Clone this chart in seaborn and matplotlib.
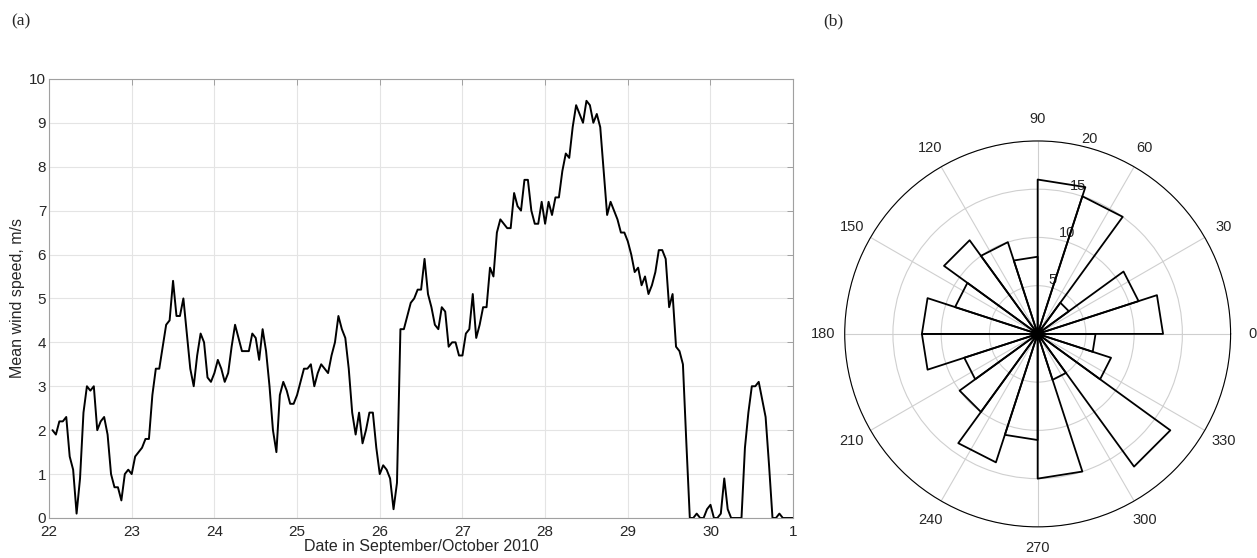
import numpy as np
import pandas as pd
import seaborn as sns
import matplotlib.pyplot as plt

# hourly mean wind speed (m/s), 22 Sep 01:00 -> 1 Oct 00:00
speed_22 = [2.0, 1.9, 2.2, 2.2, 2.3, 1.4, 1.1, 0.1, 0.9, 2.4, 3.0, 2.9,
            3.0, 2.0, 2.2, 2.3, 1.9, 1.0, 0.7, 0.7, 0.4, 1.0, 1.1, 1.0]
speed_23 = [1.4, 1.5, 1.6, 1.8, 1.8, 2.8, 3.4, 3.4, 3.9, 4.4, 4.5, 5.4,
            4.6, 4.6, 5.0, 4.2, 3.4, 3.0, 3.7, 4.2, 4.0, 3.2, 3.1, 3.3]
speed_24 = [3.6, 3.4, 3.1, 3.3, 3.9, 4.4, 4.1, 3.8, 3.8, 3.8, 4.2, 4.1,
            3.6, 4.3, 3.8, 3.0, 2.0, 1.5, 2.8, 3.1, 2.9, 2.6, 2.6, 2.8]
speed_25 = [3.1, 3.4, 3.4, 3.5, 3.0, 3.3, 3.5, 3.4, 3.3, 3.7, 4.0, 4.6,
            4.3, 4.1, 3.4, 2.4, 1.9, 2.4, 1.7, 2.0, 2.4, 2.4, 1.6, 1.0]
speed_26 = [1.2, 1.1, 0.9, 0.2, 0.8, 4.3, 4.3, 4.6, 4.9, 5.0, 5.2, 5.2,
            5.9, 5.1, 4.8, 4.4, 4.3, 4.8, 4.7, 3.9, 4.0, 4.0, 3.7, 3.7]
speed_27 = [4.2, 4.3, 5.1, 4.1, 4.4, 4.8, 4.8, 5.7, 5.5, 6.5, 6.8, 6.7,
            6.6, 6.6, 7.4, 7.1, 7.0, 7.7, 7.7, 7.0, 6.7, 6.7, 7.2, 6.7]
speed_28 = [7.2, 6.9, 7.3, 7.3, 7.9, 8.3, 8.2, 8.9, 9.4, 9.2, 9.0, 9.5,
            9.4, 9.0, 9.2, 8.9, 7.9, 6.9, 7.2, 7.0, 6.8, 6.5, 6.5, 6.3]
speed_29 = [6.0, 5.6, 5.7, 5.3, 5.5, 5.1, 5.3, 5.6, 6.1, 6.1, 5.9, 4.8,
            5.1, 3.9, 3.8, 3.5, 1.7, 0.0, 0.0, 0.1, 0.0, 0.0, 0.2, 0.3]
speed_30 = [0.0, 0.0, 0.1, 0.9, 0.2, 0.0, 0.0, 0.0, 0.0, 1.6, 2.4, 3.0,
            3.0, 3.1, 2.7, 2.3, 1.2, 0.0, 0.0, 0.1, 0.0, 0.0, 0.0, 0.0]
speed = speed_22 + speed_23 + speed_24 + speed_25 + speed_26 + speed_27 + speed_28 + speed_29 + speed_30
day_ticks = [22, 23, 24, 25, 26, 27, 28, 29, 30, 31]
day_labels = ['22', '23', '24', '25', '26', '27', '28', '29', '30', '1']

# wind direction rose: hours per 18-degree sector
sector_edges = [0, 18, 36, 54, 72, 90, 108, 126, 144, 162, 180,
                198, 216, 234, 252, 270, 288, 306, 324, 342, 360]
sector_counts = [13, 11, 4, 15, 16, 8, 10, 12, 9, 12,
                 12, 8, 10, 14, 11, 15, 5, 17, 8, 6]
angle_ticks = [0, 30, 60, 90, 120, 150, 180, 210, 240, 270, 300, 330]

sns.set_style('white')
plt.rcParams['font.family'] = ['Liberation Sans', 'DejaVu Sans']

fig = plt.figure(figsize=(12.57, 5.58), dpi=100)

# (a) time series
ax = fig.add_axes([0.039, 0.0717, 0.592, 0.787])
df = pd.DataFrame({'day': 22 + np.arange(1, len(speed) + 1) / 24, 'speed': speed})
sns.lineplot(data=df, x='day', y='speed', color='black', lw=1.4, ax=ax)
ax.set_xlim(22, 31)
ax.set_ylim(0, 10)
ax.set_xticks(day_ticks)
ax.set_xticklabels(day_labels)
ax.set_yticks(range(0, 11))
ax.grid(True, color='#e4e4e4', lw=0.8)
ax.tick_params(direction='in', top=True, right=True, length=4, width=0.7,
               color='#a0a0a0', labelsize=11, pad=2)
ax.tick_params(axis='x', pad=5)
for s in ax.spines.values():
    s.set_color('#a0a0a0')
    s.set_linewidth(0.8)
ax.set_xlabel('Date in September/October 2010', fontsize=11.5, labelpad=0)
ax.set_ylabel('Mean wind speed, m/s', fontsize=11.5, labelpad=3)

# (b) rose diagram
pax = fig.add_axes([0.672, 0.0556, 0.307, 0.692], projection='polar')
for i, c in enumerate(sector_counts):
    t1 = np.deg2rad(sector_edges[i])
    t2 = np.deg2rad(sector_edges[i + 1])
    pax.plot([0, t1, t2, 0], [0, c, c, 0], color='black', lw=1.3)
pax.set_ylim(0, 20)
pax.set_rticks([5, 10, 15, 20])
pax.set_rlabel_position(77)
pax.set_thetagrids(angle_ticks, labels=[str(a) for a in angle_ticks])
pax.grid(True, color='#cfcfcf', lw=0.8)
pax.spines['polar'].set_color('black')
pax.spines['polar'].set_linewidth(0.8)
pax.tick_params(axis='x', labelsize=10.5, pad=5)
pax.tick_params(axis='y', labelsize=10.5)

fig.text(0.009, 0.962, '(a)', family='Liberation Serif', fontsize=12.5, va='center')
fig.text(0.655, 0.962, '(b)', family='Liberation Serif', fontsize=12.5, va='center')

fig.savefig('out.png', dpi=100)
